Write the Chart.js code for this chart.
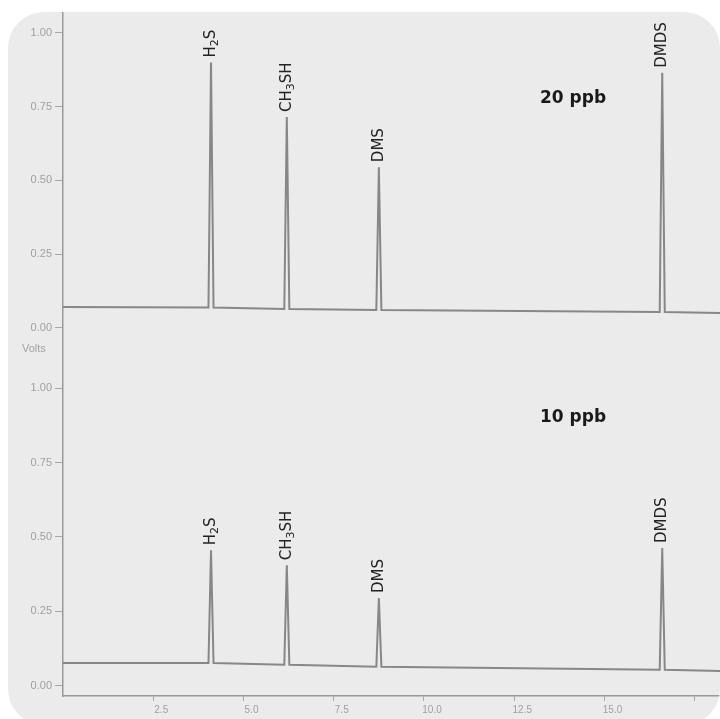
<!DOCTYPE html>
<html>
<head>
<meta charset="utf-8">
<script src="https://cdn.jsdelivr.net/npm/chart.js@4"></script>
<style>
html, body { margin: 0; padding: 0; background: #fff; }
body { width: 720px; height: 719px; overflow: hidden; position: relative; }
#card { position: absolute; left: 8px; top: 12px; width: 712px; height: 713px; background: #ebebeb; border-radius: 36px; overflow: hidden; }
.wrap { position: absolute; left: 0; width: 712px; }
#topWrap { top: 0; height: 323px; }
#botWrap { top: 323px; height: 384px; }
.conc { position: absolute; left: 532px; font: bold 17px "DejaVu Sans"; color: #1a1a1a; }
#volts { position: absolute; left: 14px; top: 330px; font: 11px "Liberation Sans"; color: #a3a3a3; }
</style>
</head>
<body>
<div id="card">
  <div class="wrap" id="topWrap"><canvas id="topChart"></canvas></div>
  <div class="wrap" id="botWrap"><canvas id="botChart"></canvas></div>
  <div class="conc" style="top:75px">20 ppb</div>
  <div class="conc" style="top:394px">10 ppb</div>
  <div id="volts">Volts</div>
</div>
<script>
// peaks (retention time in minutes); "_" marks a subscript digit
const peakNames = ['H_2S', 'CH_3SH', 'DMS', 'DMDS'];
const peakTimes = [4.1, 6.2, 8.75, 16.6];
const peakWidth = 0.07;

// peak tops and baseline under each peak (volts)
const heights20 = [0.90, 0.715, 0.545, 0.865];
const feet20 = [0.069, 0.064, 0.061, 0.054];
const ends20 = [0.071, 0.051];

const heights10 = [0.455, 0.405, 0.295, 0.463];
const feet10 = [0.077, 0.071, 0.064, 0.054];
const ends10 = [0.077, 0.050];

const xMin = 0, xMax = 18.2;
const xTicks = [2.5, 5, 7.5, 10, 12.5, 15, 17.5];
const yTicks = [0, 0.25, 0.5, 0.75, 1];

function trace(heights, feet, ends) {
    const pts = [{ x: xMin, y: ends[0] }];
    peakTimes.forEach((t, i) => {
        pts.push({ x: t - peakWidth, y: feet[i] }, { x: t, y: heights[i] }, { x: t + peakWidth, y: feet[i] });
    });
    pts.push({ x: xMax, y: ends[1] });
    return pts;
}

// split "CH_3SH" into normal / subscript pieces
function pieces(name) {
    const out = [];
    for (let i = 0; i < name.length; i++) {
        if (name[i] === '_') { out.push({ t: name[i + 1], sub: true }); i++; }
        else out.push({ t: name[i], sub: false });
    }
    return out;
}

// rotated compound names above each peak
const peakLabels = {
    id: 'peakLabels',
    afterDatasetsDraw(chart, args, opts) {
        const { ctx, scales } = chart;
        const big = '15px "DejaVu Sans"', small = '11px "DejaVu Sans"';
        ctx.save();
        ctx.fillStyle = '#222';
        ctx.textAlign = 'left';
        ctx.textBaseline = 'middle';
        peakNames.forEach((name, i) => {
            const x = scales.x.getPixelForValue(peakTimes[i]);
            const y = scales.y.getPixelForValue(opts.heights[i]) - 5;
            ctx.save();
            ctx.translate(x, y);
            ctx.rotate(-Math.PI / 2);
            let cx = 0;
            pieces(name).forEach(p => {
                ctx.font = p.sub ? small : big;
                ctx.fillText(p.t, cx, p.sub ? 4 : 0);
                cx += ctx.measureText(p.t).width;
            });
            ctx.restore();
        });
        ctx.restore();
    }
};

function makeChart(id, heights, feet, ends, yMin, yMax, showX) {
    return new Chart(document.getElementById(id), {
        type: 'line',
        data: {
            datasets: [{
                data: trace(heights, feet, ends),
                borderColor: '#878787',
                borderWidth: 2,
                pointRadius: 0,
                tension: 0
            }]
        },
        options: {
            responsive: true,
            maintainAspectRatio: false,
            animation: false,
            layout: { padding: 0 },
            scales: {
                x: {
                    type: 'linear',
                    display: showX,
                    min: xMin,
                    max: xMax,
                    afterBuildTicks: s => { s.ticks = xTicks.map(v => ({ value: v })); },
                    afterFit: s => {
                        if (showX) s.height = 23;
                        s.paddingLeft = 0; s.paddingRight = 0;
                    },
                    border: { color: '#9a9a9a', width: 1.5 },
                    grid: { drawOnChartArea: false, tickLength: 5, color: '#a8a8a8' },
                    ticks: {
                        color: '#a0a0a0',
                        font: { family: 'Liberation Sans', size: 10 },
                        padding: 3,
                        labelOffset: 8,
                        maxRotation: 0,
                        callback: v => v > 16 ? '' : v.toFixed(1)
                    }
                },
                y: {
                    min: yMin,
                    max: yMax,
                    afterBuildTicks: s => { s.ticks = yTicks.map(v => ({ value: v })); },
                    afterFit: s => { s.width = 55; s.paddingTop = 0; s.paddingBottom = 0; },
                    border: { color: '#9a9a9a', width: 1.5 },
                    grid: { drawOnChartArea: false, tickLength: 8, color: '#a8a8a8' },
                    ticks: {
                        color: '#a0a0a0',
                        font: { family: 'Liberation Sans', size: 11 },
                        padding: 3,
                        callback: v => v.toFixed(2)
                    }
                }
            },
            plugins: {
                legend: { display: false },
                tooltip: { enabled: false },
                peakLabels: { heights: heights }
            }
        },
        plugins: [peakLabels]
    });
}

makeChart('topChart', heights20, feet20, ends20, -0.024, 1.071, false);
makeChart('botChart', heights10, feet10, ends10, -0.034, 1.178, true);
</script>
</body>
</html>
